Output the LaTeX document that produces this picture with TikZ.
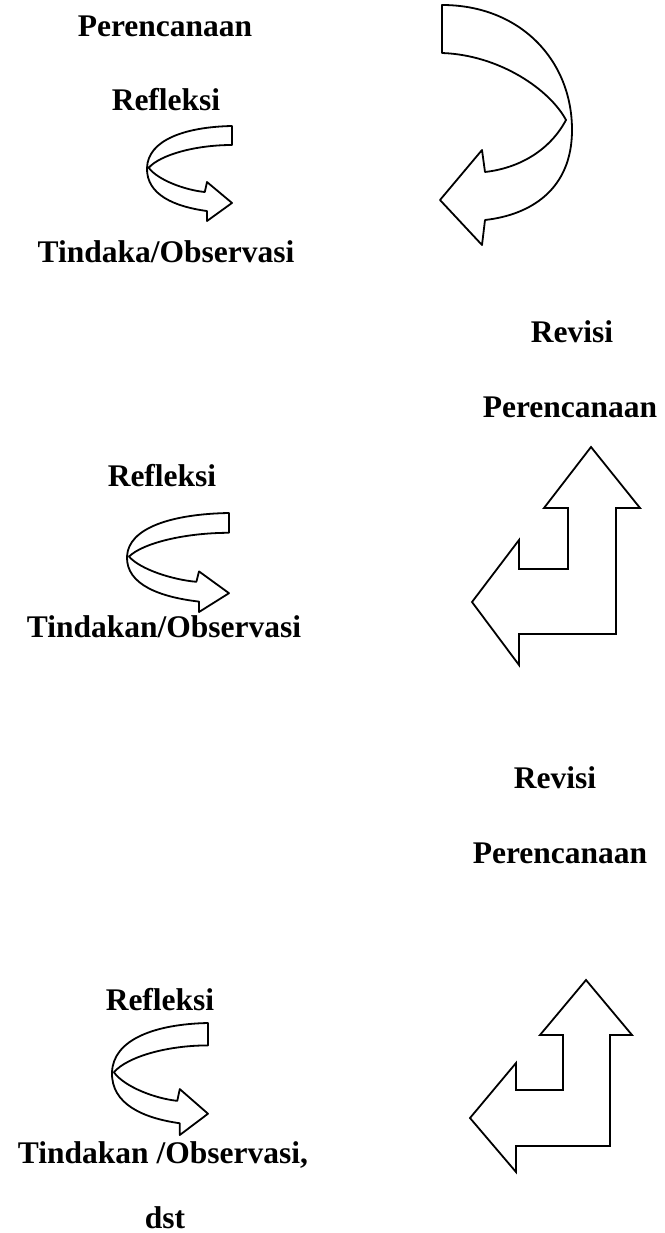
\documentclass[tikz,border=0pt]{standalone}
\usepackage{fontspec}
\setmainfont{Liberation Serif}
\begin{document}
\begin{tikzpicture}[x=1pt,y=-1pt,
  lbl/.style={anchor=base,inner sep=0pt,font=\fontsize{31.5}{31.5}\selectfont\bfseries},
  outline/.style={draw=black,line width=1.8pt,line join=round},
  ribbon/.pic={
    % twisted ribbon turning back on itself, in a unit box
    \draw[outline] (1,0) -- (1,0.2)
      .. controls (0.565,0.2) and (0.153,0.305) .. (0.02,0.44)
      .. controls (0.13,0.57) and (0.447,0.674) .. (0.68,0.695)
      -- (0.706,0.59) -- (1,0.81) -- (0.706,1) -- (0.706,0.895)
      .. controls (0.33,0.85) and (-0.01,0.726) .. (0,0.44)
      .. controls (0.012,0.147) and (0.447,0.01) .. cycle;
  }]
\useasboundingbox (0,0) rectangle (664,1233);

% ---- first cycle ----
\node[lbl] (per1) at (165,37) {Perencanaan};
\node[lbl] (ref1) at (166,111) {Refleksi};
\pic[xscale=85,yscale=95] at (147,126) {ribbon};
\node[lbl] (tin1) at (166,262) {Tindaka/Observasi};

% large turning arrow
\draw[outline] (442,5) -- (442,53)
  .. controls (500,55) and (550,90) .. (566,120)
  .. controls (550,150) and (520,168) .. (485,172)
  -- (482,150) -- (440,200) -- (482,245) -- (485,220)
  .. controls (530,215) and (572,190) .. (572,130)
  .. controls (572,60) and (520,5) .. cycle;

% ---- second cycle ----
\node[lbl] (rev1) at (572,342) {Revisi};
\node[lbl] (per2) at (570,417) {Perencanaan};
\node[lbl] (ref2) at (162,486) {Refleksi};
\pic[xscale=102,yscale=99] at (127,513) {ribbon};
\node[lbl] (tin2) at (164,637) {Tindakan/Observasi};

\draw[outline,line join=miter] (591,447) -- (640,508) -- (616,508) -- (616,634)
  -- (519,634) -- (519,665) -- (472,602) -- (519,540) -- (519,569)
  -- (568,569) -- (568,508) -- (544,508) -- cycle;

% ---- third cycle ----
\node[lbl] (rev2) at (555,788) {Revisi};
\node[lbl] (per3) at (560,863) {Perencanaan};
\node[lbl] (ref3) at (160,1010) {Refleksi};
\pic[xscale=96,yscale=112] at (112,1023) {ribbon};
\node[lbl] (tin3) at (163,1163) {Tindakan /Observasi,};
\node[lbl] (dst) at (165,1228) {dst};

\draw[outline,line join=miter] (586,980) -- (632,1035) -- (610,1035) -- (610,1146)
  -- (516,1146) -- (516,1172) -- (470,1118) -- (516,1063) -- (516,1090)
  -- (563,1090) -- (563,1035) -- (540,1035) -- cycle;
\end{tikzpicture}
\end{document}
